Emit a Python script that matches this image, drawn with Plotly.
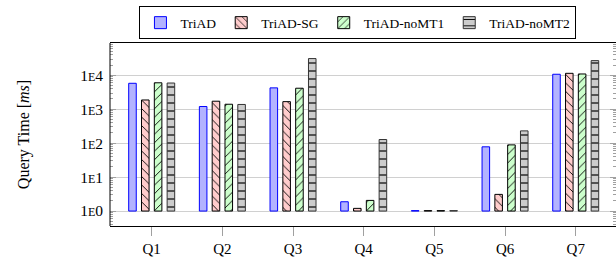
import plotly.graph_objects as go

categories = ["Q1", "Q2", "Q3", "Q4", "Q5", "Q6", "Q7"]
series_names = ["TriAD", "TriAD-SG", "TriAD-noMT1", "TriAD-noMT2"]
triad = [5800, 1200, 4250, 1.88, 1.03, 78, 10700]
triad_sg = [1870, 1720, 1670, 1.2, 1.03, 3.1, 11400]
triad_nomt1 = [6000, 1400, 4150, 2.06, 1.03, 89, 10900]
triad_nomt2 = [5900, 1380, 31000, 128, 1.03, 230, 27000]
tick_vals = [1, 10, 100, 1000, 10000]
tick_labels = ["1<span style='font-size:12px'>E</span>0",
               "1<span style='font-size:12px'>E</span>1",
               "1<span style='font-size:12px'>E</span>2",
               "1<span style='font-size:12px'>E</span>3",
               "1<span style='font-size:12px'>E</span>4"]

styles = [
    dict(fill="#b3b3ff", line="#0000ff", shape="", size=6),
    dict(fill="#ffcccc", line="#000000", shape="\\", size=6),
    dict(fill="#ccffcc", line="#000000", shape="/", size=6),
    dict(fill="#cccccc", line="#333333", shape="-", size=8),
]
values = [triad, triad_sg, triad_nomt1, triad_nomt2]

BASE = 1
fig = go.Figure()
for name, vals, st in zip(series_names, values, styles):
    fig.add_trace(go.Bar(
        name=name, x=categories, y=[v - BASE for v in vals], base=BASE,
        marker=dict(color=st["fill"], line=dict(color=st["line"], width=1),
                    pattern=dict(shape=st["shape"], fgcolor="black", bgcolor=st["fill"],
                                 size=st["size"], solidity=0.15, fillmode="replace")),
    ))

minor_vals = [m * 10 ** k for k in range(-1, 5) for m in range(2, 10)
              if 0.363 < m * 10 ** k < 89000]

fig.update_layout(
    width=616, height=262,
    margin=dict(l=110, r=0, t=43, b=36, autoexpand=False),
    paper_bgcolor="white", plot_bgcolor="white",
    font=dict(family="Liberation Serif", size=15, color="black"),
    barmode="group", bargap=0.275, bargroupgap=0.41,
    showlegend=True,
    legend=dict(orientation="h", x=0.49, xanchor="center", y=1.11, yanchor="middle",
                bordercolor="black", borderwidth=1, font=dict(size=13.5),
                itemwidth=30, tracegroupgap=0, traceorder="normal"),
    xaxis=dict(range=[-0.59, 6.57], showline=True, linecolor="black", linewidth=1,
               mirror=True, ticks="outside", ticklen=9, tickcolor="#a0a0a0",
               showgrid=False, tickfont=dict(size=15)),
    yaxis=dict(type="log", range=[-0.44, 4.95], tickvals=tick_vals, ticktext=tick_labels,
               ticks="inside", ticklen=6, tickcolor="#a0a0a0", showline=False,
               mirror="allticks", showgrid=True, gridcolor="#d0d0d0", gridwidth=1,
               zeroline=False, tickfont=dict(size=15.5), ticklabelstandoff=6,
               minor=dict(tickvals=minor_vals, ticks="inside", ticklen=3,
                          tickcolor="#a0a0a0", showgrid=False),
               title=dict(text="Query Time [<i>ms</i>]", standoff=46, font=dict(size=16))),
    shapes=[dict(type="line", xref="paper", yref="paper", x0=0, x1=0, y0=0, y1=1,
                 line=dict(color="black", width=1))],
)

fig.write_html("out.html", config={"displayModeBar": False},
               post_script="document.body.style.margin='0';document.body.style.overflow='hidden';")
